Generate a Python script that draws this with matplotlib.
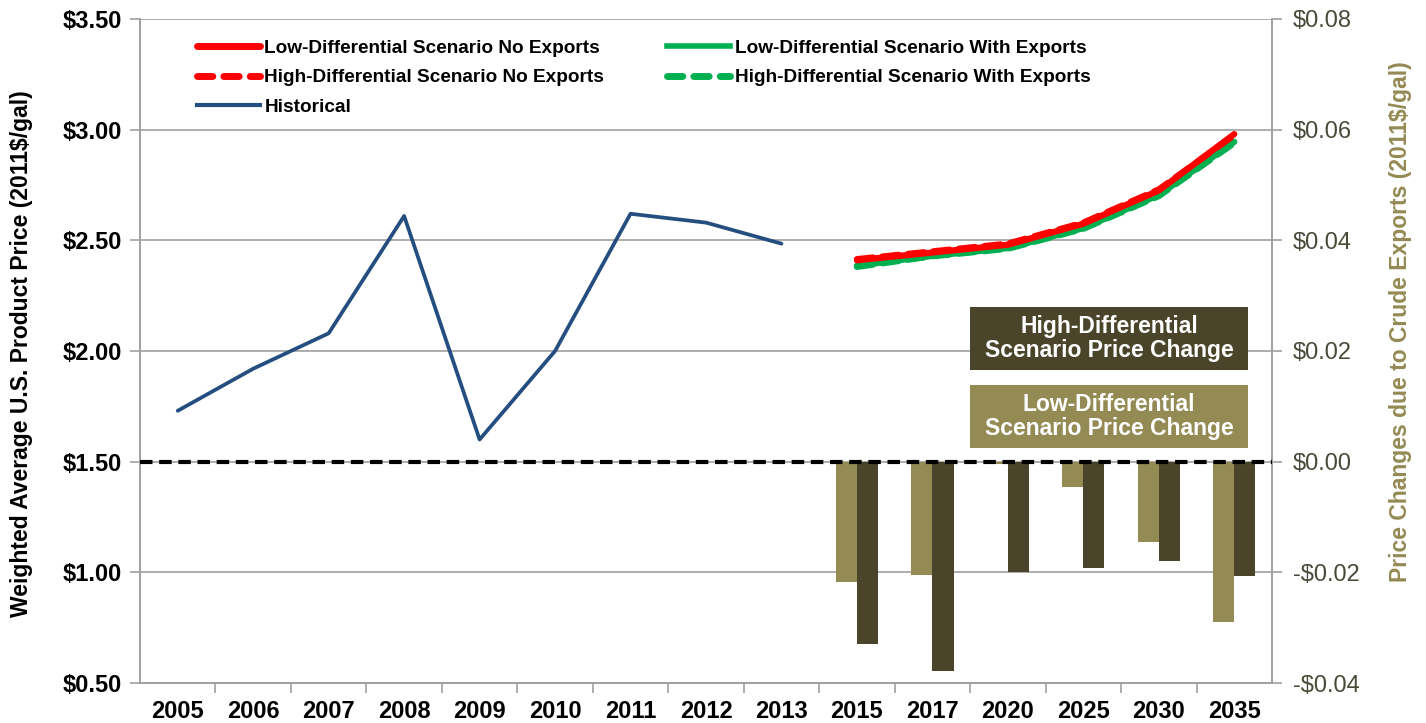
#!/usr/bin/env python3

import matplotlib
matplotlib.use("Agg")
import matplotlib.pyplot as plt
from matplotlib.lines import Line2D
from matplotlib.patches import Rectangle
import numpy as np

plt.rcParams["font.family"] = ["Liberation Sans", "DejaVu Sans"]

# categories on the x axis
categories = ["2005", "2006", "2007", "2008", "2009", "2010", "2011", "2012", "2013",
              "2015", "2017", "2020", "2025", "2030", "2035"]

# historical prices (left axis, 2011$/gal)
hist_years = ["2005", "2006", "2007", "2008", "2009", "2010", "2011", "2012", "2013"]
historical = [1.73, 1.92, 2.08, 2.61, 1.60, 2.00, 2.62, 2.58, 2.485]

# projections (left axis)
proj_years = ["2015", "2017", "2020", "2025", "2030", "2035"]
low_no_exp = [2.41, 2.445, 2.48, 2.575, 2.725, 2.98]
high_no_exp = [2.415, 2.45, 2.485, 2.58, 2.73, 2.975]
low_with_exp = [2.385, 2.43, 2.465, 2.555, 2.705, 2.945]
high_with_exp = [2.38, 2.428, 2.462, 2.552, 2.70, 2.94]

# price changes due to crude exports (right axis)
low_change = [-0.0217, -0.0205, -0.0005, -0.0046, -0.0146, -0.0290]
high_change = [-0.0330, -0.0378, -0.0200, -0.0192, -0.0179, -0.0206]

RED = "#FF0000"
GREEN = "#00B050"
BLUE = "#254E80"
LIGHT = "#948A54"
DARK = "#4A452A"

fig = plt.figure(figsize=(14.26, 7.23), dpi=100)
ax = fig.add_axes([140 / 1426, 1 - 683 / 723, (1272 - 140) / 1426, (683 - 19) / 723])
ax2 = ax.twinx()

pos = {c: i for i, c in enumerate(categories)}
xh = [pos[y] for y in hist_years]
xp = np.array([pos[y] for y in proj_years])

ax.plot(xh, historical, color=BLUE, lw=2.7, solid_capstyle="round", zorder=3)
ax.plot(xp, low_with_exp, color=GREEN, lw=4.5, solid_capstyle="round", zorder=3)
ax.plot(xp, high_with_exp, color=GREEN, lw=4.5, dashes=(2.6, 1.5),
        dash_capstyle="round", zorder=3)
ax.plot(xp, low_no_exp, color=RED, lw=4.5, solid_capstyle="round", zorder=4)
ax.plot(xp, high_no_exp, color=RED, lw=4.5, dashes=(2.6, 1.5),
        dash_capstyle="round", zorder=4)

ax.set_xlim(-0.5, len(categories) - 0.5)
ax.set_ylim(0.5, 3.5)
ax.set_yticks(np.arange(0.5, 3.51, 0.5))
ax.set_yticklabels(["${:.2f}".format(v) for v in np.arange(0.5, 3.51, 0.5)],
                   fontsize=17, fontweight="bold")
ax.yaxis.grid(True, color="#A0A0A0", lw=1.2)
ax.set_axisbelow(True)

ax.set_xticks(range(len(categories)))
ax.set_xticklabels(categories, fontsize=17, fontweight="bold")
ax.set_xticks(np.arange(0.5, len(categories) - 0.5, 1), minor=True)
ax.tick_params(axis="x", which="major", length=0, pad=12)
ax.tick_params(axis="x", which="minor", length=7, color="#A0A0A0", width=1.2)
ax.tick_params(axis="y", length=7, color="#A0A0A0", width=1.2, pad=6)

# bars on the secondary axis
w = 0.28
ax2.bar(xp - w / 2, low_change, width=w, color=LIGHT, zorder=2)
ax2.bar(xp + w / 2, high_change, width=w, color=DARK, zorder=2)
ax2.axhline(0, color="black", lw=3, dashes=(3, 1.6), zorder=5)
ax2.set_ylim(-0.04, 0.08)
rt = np.arange(-0.04, 0.0801, 0.02)
ax2.set_yticks(rt)
ax2.set_yticklabels([("-${:.2f}" if v < -1e-9 else "${:.2f}").format(abs(v)) for v in rt],
                    fontsize=17, color="#4A4A3A")
ax2.tick_params(axis="y", length=7, color="#A0A0A0", width=1.2, pad=8)

# axis titles
fig.text(22 / 1426, 1 - 354 / 723, "Weighted Average U.S. Product Price (2011$/gal)",
         rotation=90, ha="center", va="center", fontsize=16.5, fontweight="bold")
fig.text(1400 / 1426, 1 - 322 / 723, "Price Changes due to Crude Exports (2011$/gal)",
         rotation=90, ha="center", va="center", fontsize=16.5, fontweight="bold",
         color=LIGHT)

for a in (ax, ax2):
    a.spines["top"].set_visible(False)
    for s in ("left", "right", "bottom"):
        a.spines[s].set_color("#A0A0A0")
        a.spines[s].set_linewidth(1.2)

handles = [
    Line2D([], [], color=RED, lw=5, solid_capstyle="round"),
    Line2D([], [], color=RED, lw=5, dashes=(2.2, 1.6), dash_capstyle="round"),
    Line2D([], [], color=BLUE, lw=3),
    Line2D([], [], color=GREEN, lw=4),
    Line2D([], [], color=GREEN, lw=5, dashes=(2.2, 1.6), dash_capstyle="round"),
    Line2D([], [], lw=0),
]
labels = ["Low-Differential Scenario No Exports", "High-Differential Scenario No Exports",
          "Historical", "Low-Differential Scenario With Exports",
          "High-Differential Scenario With Exports", ""]
leg = ax2.legend(handles, labels, ncol=2, loc="upper left", bbox_to_anchor=(0.035, 0.995),
                 frameon=False, handlelength=3.3, handletextpad=0.25, columnspacing=3.3,
                 labelspacing=0.64, prop={"size": 13.7, "weight": "bold"})
leg.set_zorder(10)

# scenario boxes
for y0, col, txt in [(307, DARK, "High-Differential\nScenario Price Change"),
                     (385, LIGHT, "Low-Differential\nScenario Price Change")]:
    fig.add_artist(Rectangle((970 / 1426, 1 - (y0 + 63) / 723), 278 / 1426, 63 / 723,
                             transform=fig.transFigure, facecolor=col, edgecolor="none",
                             zorder=10))
    fig.text(1109 / 1426, 1 - (y0 + 31.5) / 723, txt, color="white", fontsize=16.5,
             fontweight="bold", ha="center", va="center", linespacing=1.05, zorder=11)

plt.savefig("out.png", dpi=100)
